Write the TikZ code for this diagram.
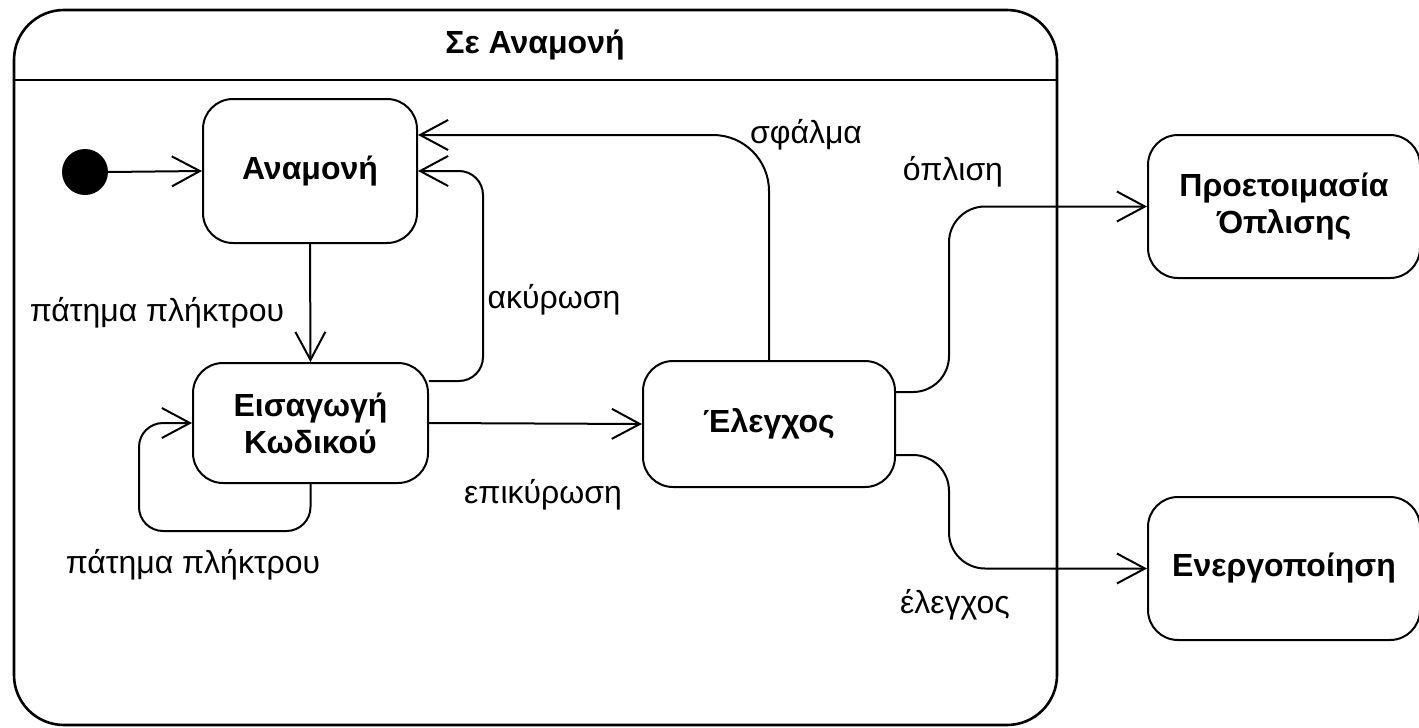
\documentclass[tikz,border=0pt]{standalone}
\usepackage{fontspec}
\setmainfont{Liberation Sans}
\usetikzlibrary{arrows.meta}

\tikzset{
  state/.style={draw, line width=1pt, rounded corners=15pt, align=center,
    font=\bfseries\fontsize{16}{18.5}\selectfont},
  trans/.style={draw, line width=1pt, -{Straight Barb[length=14pt,width=15pt,line width=1pt]}},
  lbl/.style={font=\fontsize{16}{19}\selectfont}
}

\begin{document}
\begin{tikzpicture}[x=0.5pt,y=-0.5pt]
\useasboundingbox (0,0) rectangle (1419,728);

% container
\draw[line width=1.3pt, rounded corners=25pt] (14,10) rectangle (1057,725);
\draw[line width=1.3pt] (14,80) -- (1057,80);
\node[font=\bfseries\fontsize{16}{19}\selectfont] (title) at (535,45) {Σε Αναμονή};

% states
\fill (85,172) circle (11.5pt) coordinate (init);
\node[state, minimum width=107pt, minimum height=72pt] (idle) at (310,171) {Αναμονή};
\node[state, minimum width=117.5pt, minimum height=60pt] (entry) at (310.5,423) {Εισαγωγή\\Κωδικού};
\node[state, minimum width=126pt, minimum height=63pt] (check) at (769,424) {Έλεγχος};
\node[state, minimum width=136pt, minimum height=71.5pt] (prep) at (1284,206.5) {Προετοιμασία\\Όπλισης};
\node[state, minimum width=136pt, minimum height=71.5pt] (act) at (1284,568.5) {Ενεργοποίηση};

% transitions
\draw[trans] ([xshift=11.5pt]init) -- (idle.west);
\draw[trans] (idle.south) -- (entry.north);
\draw[trans, rounded corners=12pt] ([yshift=21pt]entry.east) -| ([xshift=32.5pt]idle.east) -- (idle.east);
\draw[trans, rounded corners=12pt] (entry.south) -- ++(0,47) -| ([xshift=-26.5pt]entry.west) -- (entry.west);
\draw[trans] (entry.east) -- (check.west);
\draw[trans, rounded corners=28pt] (check.north) |- ([yshift=18pt]idle.east);
\draw[trans, rounded corners=18pt] ([yshift=16pt]check.east) -| ([xshift=-99pt]prep.west) -- (prep.west);
\draw[trans, rounded corners=18pt] ([yshift=-15.5pt]check.east) -| ([xshift=-99pt]act.west) -- (act.west);

% labels
\node[lbl] (l1) at (157,313) {πάτημα πλήκτρου};
\node[lbl] (l2) at (554,300) {ακύρωση};
\node[lbl] (l3) at (193,565) {πάτημα πλήκτρου};
\node[lbl] (l4) at (543,495) {επικύρωση};
\node[lbl] (l5) at (806,135) {σφάλμα};
\node[lbl] (l6) at (953,172) {όπλιση};
\node[lbl] (l7) at (955,605) {έλεγχος};
\end{tikzpicture}
\end{document}
